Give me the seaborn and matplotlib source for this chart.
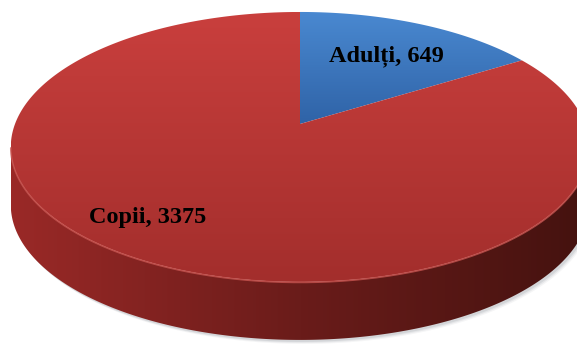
import numpy as np
import matplotlib
matplotlib.use('Agg')
import matplotlib.pyplot as plt
from matplotlib.patches import Polygon
import seaborn as sns

# --- datele graficului ---
categorii = ['Adulți', 'Copii']
valori = [649, 3375]

# culori (fata de sus: deschis -> inchis, lateral: stanga -> dreapta)
culori_sus = [['#4a89d1', '#2f63a7'], ['#c93f3d', '#a32e2c']]
culori_lateral = ['#9a2927', '#6a1c1a', '#44120f']

# pozitia etichetelor (pixeli)
poz_etichete = [(386, 56), (148, 217)]

sns.set_style('white')

W, H = 577, 346
fig = plt.figure(figsize=(W / 100, H / 100), dpi=100)
ax = fig.add_axes([0, 0, 1, 1])
ax.set_xlim(0, W)
ax.set_ylim(H, 0)
ax.axis('off')

# proiectie in perspectiva a discului (u, v); v = 1 e in spate
cx, cy = 300, 124
a, c, e = 285, 110, 0.17
gros = 58


def proj(u, v):
    w = 1 + e * v
    return cx + a * u / w, (cy - c * v) / w


def umple_gradient(xy, culori, orizontal=False, z=1):
    poly = Polygon(xy, closed=True, facecolor='none', edgecolor='none')
    ax.add_patch(poly)
    cmap = sns.blend_palette(culori, as_cmap=True)
    g = np.linspace(0, 1, 256)
    grad = g[None, :] if orizontal else g[:, None]
    x0, x1 = xy[:, 0].min(), xy[:, 0].max()
    y0, y1 = xy[:, 1].min(), xy[:, 1].max()
    im = ax.imshow(grad, extent=(x0, x1, y1, y0), cmap=cmap, aspect='auto',
                   zorder=z, interpolation='bilinear')
    im.set_clip_path(poly)


# conturul discului
t = np.linspace(0, 2 * np.pi, 721)
ox, oy = proj(np.sin(t), np.cos(t))
i_dr = np.argmax(ox)
i_st = np.argmin(ox)
fata_x, fata_y = ox[i_dr:i_st + 1], oy[i_dr:i_st + 1]

# umbra
for k, al in [(4, 0.08), (3, 0.12), (2, 0.18)]:
    sx = np.concatenate([fata_x, fata_x[::-1]]) + k
    sy = np.concatenate([fata_y, fata_y[::-1] + gros]) + k
    ax.add_patch(Polygon(np.column_stack([sx, sy]), closed=True,
                         facecolor='#808890', edgecolor='none', alpha=al, zorder=0))

# partea laterala
lat = np.column_stack([np.concatenate([fata_x, fata_x[::-1]]),
                       np.concatenate([fata_y, fata_y[::-1] + gros])])
umple_gradient(lat, culori_lateral, orizontal=True, z=1)

# feliile de sus
frac = np.array(valori) / np.sum(valori)
limite = np.concatenate([[0], np.cumsum(frac)]) * 2 * np.pi
for i in range(len(valori)):
    ph = np.linspace(limite[i], limite[i + 1], 300)
    u = np.concatenate([[0], np.sin(ph)])
    v = np.concatenate([[0], np.cos(ph)])
    px, py = proj(u, v)
    umple_gradient(np.column_stack([px, py]), culori_sus[i], z=2)

# muchia luminoasa din fata
ax.plot(fata_x, fata_y + 0.5, color='#c85450', lw=1.2, alpha=0.8, zorder=3)

# etichete
for i, (nume, val) in enumerate(zip(categorii, valori)):
    x, y = poz_etichete[i]
    ax.text(x, y, f'{nume}, {val}', ha='center', va='center',
            family='Liberation Serif', fontweight='bold', fontsize=17.5,
            color='black', zorder=5)

fig.savefig('out.png', dpi=100)
